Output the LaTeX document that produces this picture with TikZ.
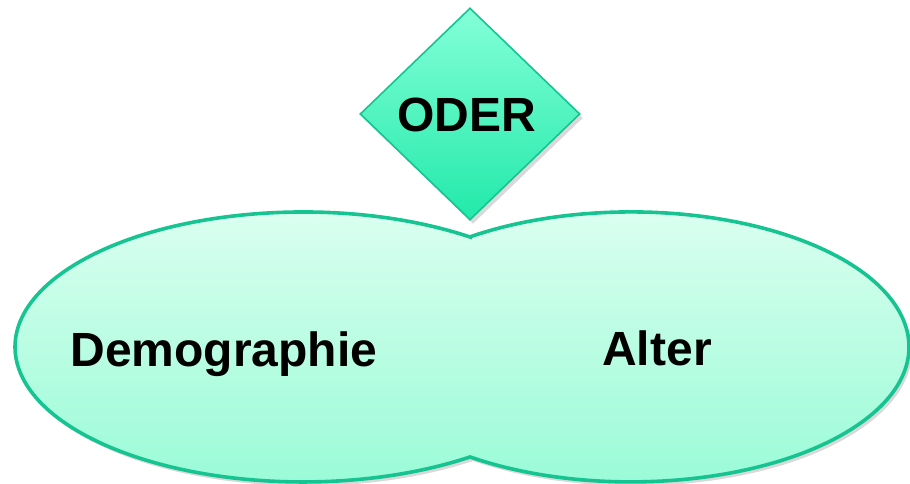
\documentclass[tikz,border=0pt]{standalone}
\usepackage{fontspec}
\setmainfont{Liberation Sans}
\usetikzlibrary{shapes.geometric,shadows}
\definecolor{ellTop}{RGB}{222,255,241}
\definecolor{ellBot}{RGB}{150,251,214}
\definecolor{diaTop}{RGB}{132,255,216}
\definecolor{diaBot}{RGB}{28,232,166}
\definecolor{outl}{RGB}{22,196,146}
\tikzset{
  lbl/.style={font=\fontsize{48}{56}\selectfont\bfseries, text=black, anchor=base, inner sep=0pt},
  shad/.style={drop shadow={opacity=0.3, shadow xshift=3pt, shadow yshift=-4pt}},
  oderbox/.style={diamond, draw=outl, line width=1.6pt, top color=diaTop, bottom color=diaTop!5!diaBot,
    minimum width=220pt, minimum height=212pt, inner sep=0pt, aspect=1.04, shad}
}
\begin{document}
\begin{tikzpicture}[x=1pt,y=1pt]
\useasboundingbox (0,0) rectangle (910,484);
% union of the two ellipses
\path[shad, draw=outl, line width=3.6pt, top color=ellTop, bottom color=ellBot]
  (470,247) arc[start angle=54.56, end angle=305.44, x radius=288pt, y radius=135pt]
  arc[start angle=-125.39, end angle=125.39, x radius=278pt, y radius=135pt] -- cycle;
\node[oderbox] (oder) at (470,370) {};
\node[lbl] (oderT) at (466.5,352) {ODER};
\node[lbl] (demo) at (224,117) {Demographie};
\node[lbl] (alter) at (657,118) {Alter};
\end{tikzpicture}
\end{document}
